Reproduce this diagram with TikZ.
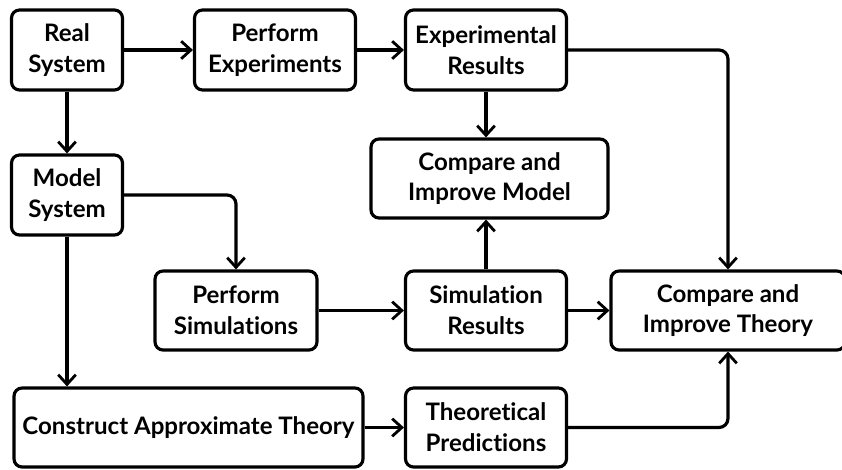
\documentclass[tikz,border=0pt]{standalone}
\usepackage{fontspec}
\setmainfont[Ligatures=NoCommon]{Lato}
\usetikzlibrary{arrows.meta,positioning}

\tikzset{
  stage/.style={draw,line width=1.8pt,rounded corners=0.16cm,align=center,
    minimum height=1.6cm,inner sep=2pt,font=\fontsize{13.7}{17.5}\selectfont\bfseries},
  flow/.style={-{Straight Barb[length=5.5pt,width=10pt,line width=1.6pt]},line width=1.8pt,rounded corners=0.18cm}
}

\begin{document}
\begin{tikzpicture}[x=0.02cm,y=-0.02cm]
\useasboundingbox (0,0) rectangle (842,470);
% top row
\node[stage,minimum width=2.22cm] (real) at (67,50) {Real\\System};
\node[stage,minimum width=3.22cm] (exper) at (275,50) {Perform\\Experiments};
\node[stage,minimum width=3.22cm] (expres) at (486,50) {Experimental\\Results};
% middle
\node[stage,minimum width=4.74cm,minimum height=1.58cm] (cmpmodel) at (489.5,178.5) {Compare and\\Improve Model};
\node[stage,minimum width=2.22cm] (model) at (67,195) {Model\\System};
\node[stage,minimum width=3.24cm,minimum height=1.58cm] (sims) at (236,310.5) {Perform\\Simulations};
\node[stage,minimum width=3.22cm,minimum height=1.58cm] (simres) at (486,310.5) {Simulation\\Results};
\node[stage,minimum width=4.68cm,minimum height=1.58cm] (cmptheory) at (728,310.5) {Compare and\\Improve Theory};
% bottom row
\node[stage,minimum width=6.98cm,minimum height=1.58cm] (approx) at (188.5,427.5) {Construct Approximate Theory};
\node[stage,minimum width=3.22cm,minimum height=1.58cm] (pred) at (486,427.5) {Theoretical\\Predictions};

\draw[flow] (real) -- (exper);
\draw[flow] (exper) -- (expres);
\draw[flow] (expres) -- (cmpmodel.north -| expres);
\draw[flow] (expres) -| (cmptheory);
\draw[flow] (real) -- (model);
\draw[flow] (model) -| (sims);
\draw[flow] (model) -- (approx.north -| model);
\draw[flow] (sims) -- (simres);
\draw[flow] (simres) -- (cmpmodel.south -| simres);
\draw[flow] (simres) -- (cmptheory);
\draw[flow] (approx) -- (pred);
\draw[flow] (pred) -| (cmptheory);
\end{tikzpicture}
\end{document}
